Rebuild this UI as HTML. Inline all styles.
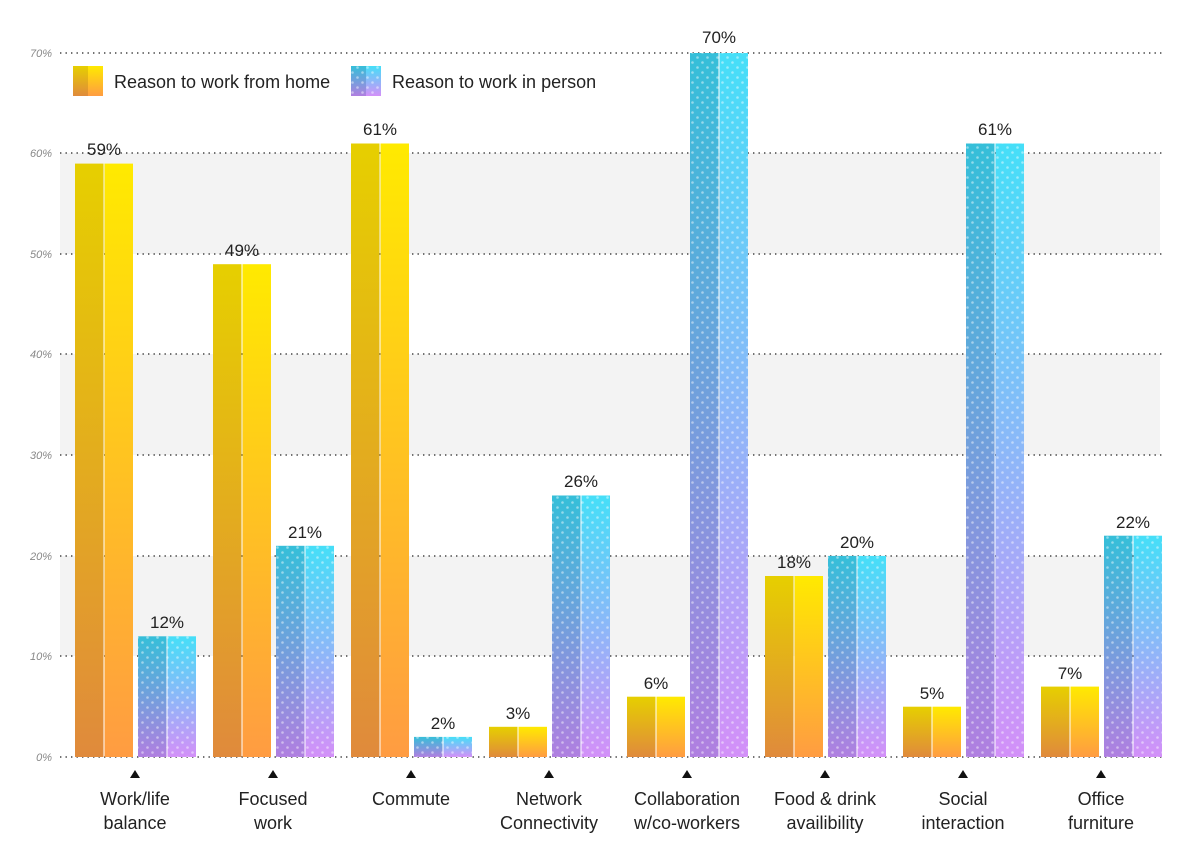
<!DOCTYPE html>
<html><head><meta charset="utf-8"><style>
html,body{margin:0;padding:0;background:#fff}
text{font-family:"Liberation Sans",sans-serif}
</style></head><body>
<svg width="1200" height="862" viewBox="0 0 1200 862" xmlns="http://www.w3.org/2000/svg">
<defs>
<linearGradient id="hL" x1="0" y1="0" x2="0" y2="1"><stop offset="0" stop-color="#e6cf00"/><stop offset="1" stop-color="#e08a3c"/></linearGradient>
<linearGradient id="hR" x1="0" y1="0" x2="0" y2="1"><stop offset="0" stop-color="#ffea00"/><stop offset="1" stop-color="#ff9c42"/></linearGradient>
<linearGradient id="pL" x1="0" y1="0" x2="0" y2="1"><stop offset="0" stop-color="#35bfd9"/><stop offset="1" stop-color="#b07fe0"/></linearGradient>
<linearGradient id="pR" x1="0" y1="0" x2="0" y2="1"><stop offset="0" stop-color="#45dff8"/><stop offset="1" stop-color="#d390f8"/></linearGradient>
<pattern id="dots" width="10" height="10" patternUnits="userSpaceOnUse"><circle cx="2.5" cy="2.5" r="1.3" fill="#fff" fill-opacity="0.45"/><circle cx="7.5" cy="7.5" r="1.3" fill="#fff" fill-opacity="0.45"/></pattern>
</defs>
<g fill="#f3f3f3">
<rect x="60" y="153" width="1100" height="101"/>
<rect x="60" y="354" width="1100" height="101"/>
<rect x="60" y="556" width="1100" height="100"/>
</g>
<g stroke="#444" stroke-width="1.4" stroke-dasharray="1.4 4.1">
<line x1="60" x2="1162" y1="53" y2="53"/><line x1="60" x2="1162" y1="153" y2="153"/><line x1="60" x2="1162" y1="254" y2="254"/><line x1="60" x2="1162" y1="354" y2="354"/><line x1="60" x2="1162" y1="455" y2="455"/><line x1="60" x2="1162" y1="556" y2="556"/><line x1="60" x2="1162" y1="656" y2="656"/><line x1="60" x2="1162" y1="757" y2="757"/>
</g>
<g font-size="11" fill="#888" text-anchor="end" font-style="italic">
<text x="52" y="57">70%</text><text x="52" y="157">60%</text><text x="52" y="258">50%</text><text x="52" y="358">40%</text><text x="52" y="459">30%</text><text x="52" y="560">20%</text><text x="52" y="660">10%</text><text x="52" y="761">0%</text>
</g>
<!-- legend -->
<rect x="73" y="66" width="15" height="30" fill="url(#hL)"/><rect x="88" y="66" width="15" height="30" fill="url(#hR)"/>
<text x="114" y="88" font-size="18" fill="#222">Reason to work from home</text>
<rect x="351" y="66" width="15" height="30" fill="url(#pL)"/><rect x="366" y="66" width="15" height="30" fill="url(#pR)"/>
<rect x="351" y="66" width="30" height="30" fill="url(#dots)"/>
<text x="392" y="88" font-size="18" fill="#222">Reason to work in person</text>
<!-- home bars -->
<g>
<rect x="75" y="163.6" width="28.5" height="593.4" fill="url(#hL)"/><rect x="104.5" y="163.6" width="28.5" height="593.4" fill="url(#hR)"/>
<rect x="213" y="264.2" width="28.5" height="492.8" fill="url(#hL)"/><rect x="242.5" y="264.2" width="28.5" height="492.8" fill="url(#hR)"/>
<rect x="351" y="143.5" width="28.5" height="613.5" fill="url(#hL)"/><rect x="380.5" y="143.5" width="28.5" height="613.5" fill="url(#hR)"/>
<rect x="489" y="726.8" width="28.5" height="30.2" fill="url(#hL)"/><rect x="518.5" y="726.8" width="28.5" height="30.2" fill="url(#hR)"/>
<rect x="627" y="696.7" width="28.5" height="60.3" fill="url(#hL)"/><rect x="656.5" y="696.7" width="28.5" height="60.3" fill="url(#hR)"/>
<rect x="765" y="576" width="28.5" height="181" fill="url(#hL)"/><rect x="794.5" y="576" width="28.5" height="181" fill="url(#hR)"/>
<rect x="903" y="706.7" width="28.5" height="50.3" fill="url(#hL)"/><rect x="932.5" y="706.7" width="28.5" height="50.3" fill="url(#hR)"/>
<rect x="1041" y="686.6" width="28.5" height="70.4" fill="url(#hL)"/><rect x="1070.5" y="686.6" width="28.5" height="70.4" fill="url(#hR)"/>
</g>
<!-- person bars -->
<g>
<rect x="138" y="636.3" width="28.5" height="120.7" fill="url(#pL)"/><rect x="167.5" y="636.3" width="28.5" height="120.7" fill="url(#pR)"/><rect x="138" y="636.3" width="58" height="120.7" fill="url(#dots)"/>
<rect x="276" y="545.8" width="28.5" height="211.2" fill="url(#pL)"/><rect x="305.5" y="545.8" width="28.5" height="211.2" fill="url(#pR)"/><rect x="276" y="545.8" width="58" height="211.2" fill="url(#dots)"/>
<rect x="414" y="736.9" width="28.5" height="20.1" fill="url(#pL)"/><rect x="443.5" y="736.9" width="28.5" height="20.1" fill="url(#pR)"/><rect x="414" y="736.9" width="58" height="20.1" fill="url(#dots)"/>
<rect x="552" y="495.5" width="28.5" height="261.5" fill="url(#pL)"/><rect x="581.5" y="495.5" width="28.5" height="261.5" fill="url(#pR)"/><rect x="552" y="495.5" width="58" height="261.5" fill="url(#dots)"/>
<rect x="690" y="53" width="28.5" height="704" fill="url(#pL)"/><rect x="719.5" y="53" width="28.5" height="704" fill="url(#pR)"/><rect x="690" y="53" width="58" height="704" fill="url(#dots)"/>
<rect x="828" y="555.9" width="28.5" height="201.1" fill="url(#pL)"/><rect x="857.5" y="555.9" width="28.5" height="201.1" fill="url(#pR)"/><rect x="828" y="555.9" width="58" height="201.1" fill="url(#dots)"/>
<rect x="966" y="143.5" width="28.5" height="613.5" fill="url(#pL)"/><rect x="995.5" y="143.5" width="28.5" height="613.5" fill="url(#pR)"/><rect x="966" y="143.5" width="58" height="613.5" fill="url(#dots)"/>
<rect x="1104" y="535.7" width="28.5" height="221.3" fill="url(#pL)"/><rect x="1133.5" y="535.7" width="28.5" height="221.3" fill="url(#pR)"/><rect x="1104" y="535.7" width="58" height="221.3" fill="url(#dots)"/>
</g>
<!-- value labels -->
<g font-size="17" fill="#222" text-anchor="middle">
<text x="104" y="155">59%</text><text x="242" y="256">49%</text><text x="380" y="135">61%</text><text x="518" y="719">3%</text><text x="656" y="689">6%</text><text x="794" y="568">18%</text><text x="932" y="699">5%</text><text x="1070" y="679">7%</text>
<text x="167" y="628">12%</text><text x="305" y="538">21%</text><text x="443" y="729">2%</text><text x="581" y="487">26%</text><text x="719" y="43">70%</text><text x="857" y="548">20%</text><text x="995" y="135">61%</text><text x="1133" y="528">22%</text>
</g>
<!-- triangles -->
<g fill="#111">
<polygon points="130,778 140,778 135,770"/><polygon points="268,778 278,778 273,770"/><polygon points="406,778 416,778 411,770"/><polygon points="544,778 554,778 549,770"/><polygon points="682,778 692,778 687,770"/><polygon points="820,778 830,778 825,770"/><polygon points="958,778 968,778 963,770"/><polygon points="1096,778 1106,778 1101,770"/>
</g>
<g font-size="18" fill="#222" text-anchor="middle">
<text x="135" y="805">Work/life</text><text x="135" y="829">balance</text>
<text x="273" y="805">Focused</text><text x="273" y="829">work</text>
<text x="411" y="805">Commute</text>
<text x="549" y="805">Network</text><text x="549" y="829">Connectivity</text>
<text x="687" y="805">Collaboration</text><text x="687" y="829">w/co-workers</text>
<text x="825" y="805">Food &amp; drink</text><text x="825" y="829">availibility</text>
<text x="963" y="805">Social</text><text x="963" y="829">interaction</text>
<text x="1101" y="805">Office</text><text x="1101" y="829">furniture</text>
</g>
</svg>
</body></html>
